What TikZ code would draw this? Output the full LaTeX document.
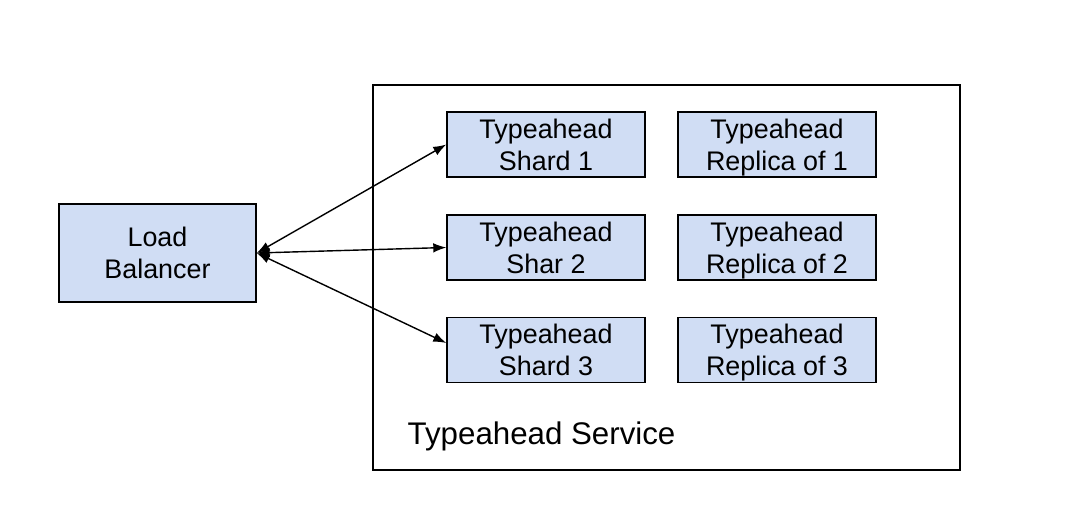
\documentclass[tikz,border=0pt]{standalone}
\usepackage{fontspec}
\setmainfont{Liberation Sans}
\usetikzlibrary{arrows.meta}
\definecolor{boxblue}{RGB}{208,221,244}

\begin{document}
\begin{tikzpicture}[x = 0.02cm, y = -0.02cm, line width = 0.8pt,
                    font = \fontsize{15.3}{18.2}\selectfont,
                    block/.style = {draw, fill = boxblue, align = center, inner sep = 0pt,
                                    text depth = 0pt, minimum width = 3.96cm, minimum height = 1.3cm},
                    link/.style = {{Latex[length=2.6mm,width=1.9mm]}-{Latex[length=2.6mm,width=1.9mm]}}]
  \useasboundingbox (0, 0) rectangle (1071, 523);

  \node [draw, minimum width = 11.74cm, minimum height = 7.7cm] (SVC) at (666.5, 277.5){};
  \node [anchor=west, inner sep = 0pt, font = \fontsize{17.8}{21}\selectfont] (SVCL) at (407, 436){Typeahead Service};

  \node [block, minimum width = 3.94cm, minimum height = 1.96cm] (LB) at (157.5, 253){Load\\Balancer};

  \node [block] (S1) at (546, 144.5){Typeahead\\Shard 1};
  \node [block] (S2) at (546, 247.5){Typeahead\\Shar 2};
  \node [block] (S3) at (546, 350){Typeahead\\Shard 3};

  \node [block] (R1) at (777, 144.5){Typeahead\\Replica of 1};
  \node [block] (R2) at (777, 247.5){Typeahead\\Replica of 2};
  \node [block] (R3) at (777, 350){Typeahead\\Replica of 3};

  \draw [link] (LB.east) -- (S1.west);
  \draw [link] (LB.east) -- (S2.west);
  \draw [link] (LB.east) -- ([yshift=0.14cm]S3.west);
\end{tikzpicture}
\end{document}
